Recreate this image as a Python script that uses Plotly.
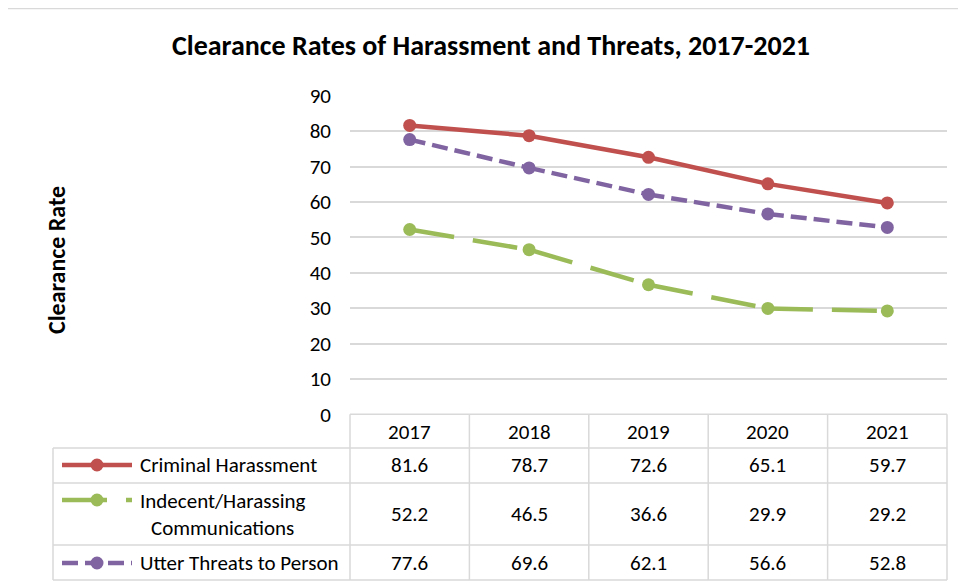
import plotly.graph_objects as go

# ---- data ----
years = ["2017", "2018", "2019", "2020", "2021"]
criminal_harassment = [81.6, 78.7, 72.6, 65.1, 59.7]
indecent_communications = [52.2, 46.5, 36.6, 29.9, 29.2]
utter_threats = [77.6, 69.6, 62.1, 56.6, 52.8]
series_names = ["Criminal Harassment", "Indecent/Harassing<br>Communications", "Utter Threats to Person"]
y_ticks = [0, 10, 20, 30, 40, 50, 60, 70, 80, 90]

W, H = 966, 585
OFF = 8  # page body margin
FONT = "Carlito, Calibri, Lato, sans-serif"
GRID = "#D9D9D9"
TXT = "#000000"


def px(x):
    return (x - OFF) / W


def py(y):
    return 1 - (y - OFF) / H


series = [
    (series_names[0], criminal_harassment, "#C0504D", "solid"),
    (series_names[1], indecent_communications, "#9BBB59", "45px,19px"),
    (series_names[2], utter_threats, "#8064A2", "16px,7px"),
]

fig = go.Figure()

# lines drawn segment by segment (dash pattern restarts at each point, as in Excel)
for name, vals, color, dash in series:
    for i in range(len(years) - 1):
        fig.add_trace(go.Scatter(
            x=years[i:i + 2], y=vals[i:i + 2], mode="lines",
            line=dict(color=color, width=4.5, dash=dash),
            showlegend=False, hoverinfo="skip"))
for name, vals, color, dash in series:
    fig.add_trace(go.Scatter(
        x=years, y=vals, mode="markers", name=name.replace("<br>", " "),
        marker=dict(color=color, size=13), showlegend=False))

# plot area geometry (pixels in the page)
PL, PR = 350, 947
Y0, Y90 = 414.3, 95.7
col_w = (PR - PL) / len(years)
row_lines = [414.3, 448, 483, 545, 580]
row_centers = [465, 514, 563]
TL = 53

shapes = []
# outer chart border
shapes.append(dict(type="rect", xref="paper", yref="paper",
                   x0=px(7), x1=px(W + 30), y0=py(8.5), y1=py(H + 30),
                   line=dict(color=GRID, width=1.5), fillcolor="rgba(0,0,0,0)", layer="below"))
# table horizontal lines
shapes.append(dict(type="line", xref="paper", yref="paper",
                   x0=px(PL), x1=px(PR), y0=py(row_lines[0]), y1=py(row_lines[0]),
                   line=dict(color=GRID, width=1.5)))
for ry in row_lines[1:]:
    shapes.append(dict(type="line", xref="paper", yref="paper",
                       x0=px(TL), x1=px(PR), y0=py(ry), y1=py(ry),
                       line=dict(color=GRID, width=1.5)))
# table vertical lines
shapes.append(dict(type="line", xref="paper", yref="paper",
                   x0=px(TL), x1=px(TL), y0=py(row_lines[1]), y1=py(row_lines[-1]),
                   line=dict(color=GRID, width=1.5)))
for k in range(len(years) + 1):
    xx = PL + k * col_w
    shapes.append(dict(type="line", xref="paper", yref="paper",
                       x0=px(xx), x1=px(xx), y0=py(row_lines[0]), y1=py(row_lines[-1]),
                       line=dict(color=GRID, width=1.5)))

# legend keys inside table
KX0, KX1, KM = 62, 132, 97
for (name, vals, color, dash), cy in zip(series, row_centers):
    ky = cy if "<br>" not in name else 500
    shapes.append(dict(type="line", xref="paper", yref="paper",
                       x0=px(KX0), x1=px(KX1), y0=py(ky), y1=py(ky),
                       line=dict(color=color, width=4.5, dash=dash)))
    shapes.append(dict(type="circle", xref="paper", yref="paper",
                       x0=px(KM - 6.5), x1=px(KM + 6.5), y0=py(ky + 6.5), y1=py(ky - 6.5),
                       line=dict(width=0), fillcolor=color))

annotations = []
# title
annotations.append(dict(text="<b>Clearance Rates of Harassment and Threats, 2017-2021</b>",
                        x=px(491), y=py(46), xref="paper", yref="paper",
                        showarrow=False, xanchor="center", yanchor="middle",
                        font=dict(family=FONT, size=28, color=TXT)))
# y title
annotations.append(dict(text="<b>Clearance Rate</b>", x=px(56), y=py(260),
                        xref="paper", yref="paper", showarrow=False, textangle=-90,
                        xanchor="center", yanchor="middle",
                        font=dict(family=FONT, size=24, color=TXT)))
# header row
for k, yr in enumerate(years):
    annotations.append(dict(text=yr, x=px(PL + (k + 0.5) * col_w), y=py(432),
                            xref="paper", yref="paper", showarrow=False,
                            xanchor="center", yanchor="middle",
                            font=dict(family=FONT, size=21, color=TXT)))
# series rows
for (name, vals, color, dash), cy in zip(series, row_centers):
    annotations.append(dict(text=name, x=px(138), y=py(cy), xref="paper", yref="paper",
                            showarrow=False, xanchor="left", yanchor="middle", align="center",
                            font=dict(family=FONT, size=21, color=TXT)))
    for k, v in enumerate(vals):
        annotations.append(dict(text=f"{v:.1f}", x=px(PL + (k + 0.5) * col_w), y=py(cy),
                                xref="paper", yref="paper", showarrow=False,
                                xanchor="center", yanchor="middle",
                                font=dict(family=FONT, size=21, color=TXT)))

fig.update_layout(
    width=W, height=H,
    margin=dict(l=0, r=0, t=0, b=0),
    paper_bgcolor="white", plot_bgcolor="white",
    showlegend=False,
    xaxis=dict(domain=[px(PL), px(PR)], type="category", range=[-0.5, len(years) - 0.5],
               showticklabels=False, showgrid=False, zeroline=False, showline=False, ticks="",
               automargin=False),
    yaxis=dict(domain=[py(Y0), py(Y90)], range=[0, 90], tickvals=y_ticks,
               showgrid=True, gridcolor=GRID, gridwidth=1.5, zeroline=False, showline=False,
               ticks="", ticklabelstandoff=18, automargin=False,
               tickfont=dict(family=FONT, size=21, color=TXT)),
    shapes=shapes,
    annotations=annotations,
)

fig.write_html("out.html")
